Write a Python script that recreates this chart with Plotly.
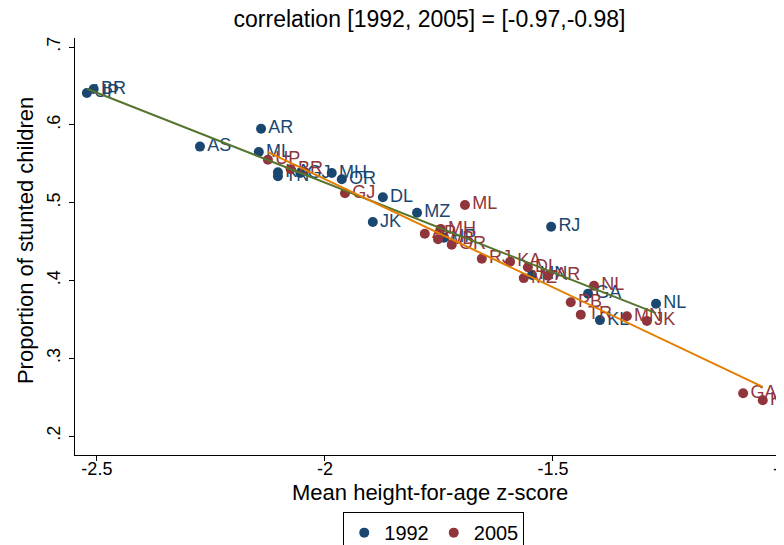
import numpy as np
import plotly.graph_objects as go

# ---- data ----
states_1992 = ["BR", "UP", "AS", "AR", "ML", "KA", "TN", "GJ", "MH", "OR", "DL", "MZ", "JK", "RJ", "HP", "MN", "GA", "KL", "NL"]
haz_1992 = [-2.507, -2.522, -2.274, -2.140, -2.145, -2.103, -2.103, -2.054, -1.985, -1.963, -1.873, -1.798, -1.895, -1.504, -1.739, -1.546, -1.423, -1.397, -1.274]
stunt_1992 = [0.646, 0.641, 0.572, 0.595, 0.565, 0.539, 0.534, 0.538, 0.538, 0.530, 0.507, 0.487, 0.475, 0.469, 0.455, 0.407, 0.383, 0.349, 0.370]

states_2005 = ["UP", "BR", "GJ", "ML", "MH", "AP", "WB", "OR", "RJ", "KA", "DL", "MZ", "AR", "NL", "PB", "TR", "MN", "JK", "GA", "KL"]
haz_2005 = [-2.125, -2.075, -1.956, -1.693, -1.746, -1.781, -1.752, -1.722, -1.656, -1.594, -1.555, -1.564, -1.511, -1.410, -1.461, -1.439, -1.338, -1.294, -1.083, -1.040]
stunt_2005 = [0.555, 0.543, 0.512, 0.497, 0.466, 0.460, 0.453, 0.446, 0.428, 0.424, 0.417, 0.403, 0.406, 0.393, 0.372, 0.356, 0.354, 0.348, 0.255, 0.246]

# fitted lines (intercept, slope)
fit_1992 = (0.0636, -0.2311)
fit_2005 = (-0.0262, -0.2782)

title_text = "correlation [1992, 2005] = [-0.97,-0.98]"
x_title = "Mean height-for-age z-score"
y_title = "Proportion of stunted children"
x_ticks = [-2.5, -2, -1.5, -1]
x_tick_labels = ["-2.5", "-2", "-1.5", "-1"]
y_ticks = [0.2, 0.3, 0.4, 0.5, 0.6, 0.7]
y_tick_labels = [".2", ".3", ".4", ".5", ".6", ".7"]

NAVY = "#1a476f"
MAROON = "#90353b"
GREEN = "#55752f"
ORANGE = "#e37e00"
FONT = "Liberation Sans, Arial, sans-serif"
PAGE_OFF = 8  # default body margin of the html page


def line_over(x, coef):
    x = np.asarray(x)
    xs = np.array([x.min(), x.max()])
    return xs, coef[0] + coef[1] * xs


fig = go.Figure()

for name, xs, ys, labs, col in [("1992", haz_1992, stunt_1992, states_1992, NAVY),
                                ("2005", haz_2005, stunt_2005, states_2005, MAROON)]:
    fig.add_trace(go.Scatter(
        x=xs, y=ys, text=labs, name=name, mode="markers+text",
        textposition="middle right",
        textfont=dict(color=col, size=18, family=FONT),
        marker=dict(color=col, size=10),
        cliponaxis=False,
    ))

lx, ly = line_over(haz_1992, fit_1992)
fig.add_trace(go.Scatter(x=lx, y=ly, mode="lines", line=dict(color=GREEN, width=2), showlegend=False))
lx, ly = line_over(haz_2005, fit_2005)
fig.add_trace(go.Scatter(x=lx, y=ly, mode="lines", line=dict(color=ORANGE, width=2), showlegend=False))

fig.update_layout(
    width=784, height=545,
    margin=dict(l=75 - PAGE_OFF, r=PAGE_OFF, t=38 - PAGE_OFF, b=90 + PAGE_OFF, autoexpand=False),
    paper_bgcolor="white", plot_bgcolor="white",
    font=dict(family=FONT, color="black", size=18),
    title=dict(text=title_text, x=0.5, xref="paper", xanchor="center",
               y=1 - (19 - PAGE_OFF) / 545, yref="container", yanchor="middle",
               font=dict(size=23, color="black", family=FONT)),
    showlegend=True,
    legend=dict(orientation="h", x=0.506, xanchor="center", y=-0.137, yanchor="top",
                bordercolor="black", borderwidth=1, bgcolor="white",
                font=dict(size=20, family=FONT), itemwidth=30,
                traceorder="normal"),
    annotations=[
        dict(text=x_title, xref="paper", yref="paper", x=0.5, y=-0.0911,
             xanchor="center", yanchor="middle", showarrow=False,
             font=dict(size=22, family=FONT, color="black")),
        dict(text=y_title, xref="paper", yref="paper", x=-0.0705, y=0.513,
             xanchor="center", yanchor="middle", showarrow=False, textangle=-90,
             font=dict(size=22, family=FONT, color="black")),
    ],
)

fig.update_xaxes(
    range=[-2.548, -0.9934], tickvals=x_ticks, ticktext=x_tick_labels,
    showgrid=False, zeroline=False, showline=True, linecolor="black", linewidth=1,
    ticks="outside", ticklen=5, tickcolor="black", automargin=False,
    tickfont=dict(size=18, family=FONT), ticklabelstandoff=-8,
)
fig.update_yaxes(
    range=[0.1756, 0.7116], tickvals=y_ticks, ticktext=y_tick_labels,
    showgrid=False, zeroline=False, showline=True, linecolor="black", linewidth=1,
    ticks="outside", ticklen=5, tickcolor="black", tickangle=-90, automargin=False,
    tickfont=dict(size=18, family=FONT), ticklabelstandoff=2,
)

fig.write_html("out.html")
